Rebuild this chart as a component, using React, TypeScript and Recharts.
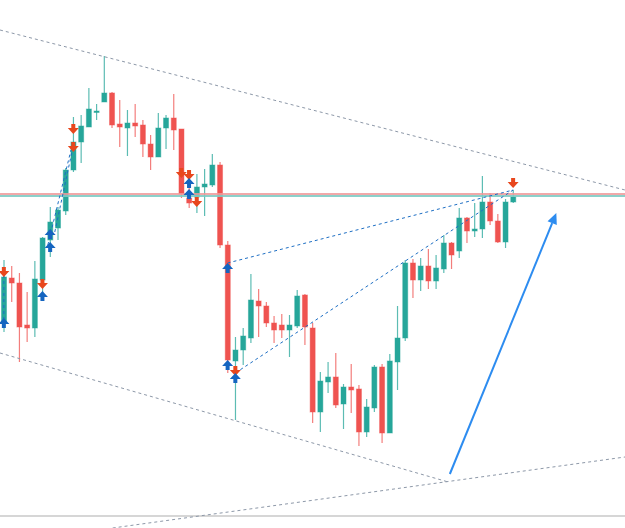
import { ComposedChart, Bar, Scatter, XAxis, YAxis, ReferenceLine } from "recharts";

// candles, oldest first (price units are arbitrary, no axis is shown)
const opens = [
  205, 250, 245, 203, 200, 248, 288, 300, 317, 358, 386, 401, 416, 426, 435, 404, 400,
  405, 403, 384, 371, 400, 410, 399, 330, 331, 341, 343, 363, 283, 167, 178, 190, 227,
  222, 205, 203, 198, 202, 233, 200, 116, 146, 151, 124, 141, 139, 96, 120, 161, 95,
  166, 190, 265, 248, 262, 247, 259, 285, 277, 310, 297, 299, 326, 307, 286, 326,
];
const highs = [
  268, 262, 255, 236, 267, 291, 321, 321, 360, 411, 413, 440, 424, 472, 436, 428, 418,
  424, 408, 393, 415, 413, 434, 399, 340, 354, 359, 374, 366, 287, 191, 200, 254, 239,
  226, 212, 214, 213, 238, 234, 205, 156, 166, 175, 144, 164, 143, 129, 163, 164, 174,
  222, 268, 269, 270, 279, 273, 293, 286, 320, 311, 325, 352, 335, 314, 329, 338,
];
const lows = [
  196, 226, 166, 186, 191, 228, 271, 288, 313, 356, 365, 401, 408, 426, 400, 381, 372,
  391, 371, 358, 371, 379, 378, 330, 320, 315, 312, 341, 280, 155, 108, 163, 185, 191,
  201, 185, 190, 171, 200, 183, 105, 96, 135, 120, 99, 115, 82, 91, 116, 85, 95,
  138, 187, 230, 237, 239, 239, 255, 259, 270, 285, 291, 290, 303, 285, 280, 325,
];
const closes = [
  251, 245, 201, 200, 249, 290, 306, 318, 358, 386, 402, 419, 417, 435, 403, 401, 405,
  402, 384, 371, 400, 410, 398, 334, 325, 341, 344, 363, 283, 168, 178, 192, 228, 222,
  205, 198, 198, 203, 232, 201, 116, 147, 151, 123, 141, 138, 96, 121, 161, 95, 167,
  190, 265, 248, 262, 247, 260, 285, 273, 310, 297, 299, 326, 307, 286, 326, 331,
];

// signal arrows: [candle index, price]
const sellSignals = [
  [0, 256], [5, 244], [9, 399], [9, 381], [23, 355], [24, 353], [25, 326], [30, 157], [66, 345],
];
const buySignals = [
  [0, 205], [5, 232], [6, 281], [6, 294], [24, 345], [24, 334], [29, 260], [29, 163], [30, 150],
];

// drawn lines: [x1, y1, x2, y2] in candle index / price
const channelLines = [
  [-0.5, 498, 80.5, 338],
  [-0.5, 175, 57.6, 46],
  [14.1, 0, 80.5, 71],
];
const patternLines = [
  [29, 265, 66, 338],
  [30, 155, 66, 338],
  [0, 253, 0, 208],
  [5.7, 283, 8.7, 378],
  [6.6, 296, 9.1, 386],
];
const trendArrow = [57.8, 54, 71.6, 315];
const resistance = 334;
const support = 332;
const baseLine = 12;

const GREEN = "#26a69a";
const RED = "#ef5350";

const candles = opens.map((open, i) => ({
  i,
  open,
  high: highs[i],
  low: lows[i],
  close: closes[i],
}));
const sells = sellSignals.map(([i, p]) => ({ i, p }));
const buys = buySignals.map(([i, p]) => ({ i, p }));

const Candle = (props: any) => {
  const { x, y, width, height, payload } = props;
  const { open, high, low, close } = payload;
  const h = Math.abs(height);
  const top = height < 0 ? y + height : y;
  const k = h / (high - low);
  const py = (v: number) => top + (high - v) * k;
  const color = close >= open ? GREEN : RED;
  const cx = x + width / 2;
  const bTop = py(Math.max(open, close));
  const bBot = py(Math.min(open, close));
  return (
    <g>
      <line x1={cx} x2={cx} y1={top} y2={top + h} stroke={color} strokeOpacity={0.75} strokeWidth={1.2} />
      <rect
        x={cx - 2.5}
        y={bTop}
        width={5}
        height={Math.max(1.5, bBot - bTop)}
        fill={color}
        stroke={color}
        strokeOpacity={0.45}
        strokeWidth={1}
      />
    </g>
  );
};

const SellArrow = ({ cx, cy }: any) => (
  <path
    d={`M${cx - 2},${cy - 5} h4 v4 h3.5 L${cx},${cy + 5} L${cx - 5.5},${cy - 1} h3.5 Z`}
    fill="#e8471d"
  />
);

const BuyArrow = ({ cx, cy }: any) => (
  <path
    d={`M${cx - 2},${cy + 5} h4 v-4 h3.5 L${cx},${cy - 5} L${cx - 5.5},${cy + 1} h3.5 Z`}
    fill="#1565c0"
  />
);

const ArrowShape = (p: any) => {
  const { x1, y1, x2, y2 } = p;
  const a = Math.atan2(y2 - y1, x2 - x1);
  const len = 11;
  const w = 5;
  const bx = x2 - len * Math.cos(a);
  const by = y2 - len * Math.sin(a);
  const nx = -Math.sin(a) * w;
  const ny = Math.cos(a) * w;
  return (
    <g>
      <line x1={x1} y1={y1} x2={bx} y2={by} stroke="#2d8cf0" strokeWidth={2} />
      <path d={`M${x2},${y2} L${bx + nx},${by + ny} L${bx - nx},${by - ny} Z`} fill="#2d8cf0" />
    </g>
  );
};

export default function App() {
  return (
    <div style={{ position: "absolute", left: 0, top: 0, width: 625, height: 528, background: "#fff" }}>
      <ComposedChart width={625} height={528} data={candles} margin={{ top: 0, right: 0, bottom: 0, left: 0 }}>
        <XAxis dataKey="i" type="number" domain={[-0.5, 80.5]} allowDataOverflow hide />
        <YAxis type="number" domain={[0, 528]} allowDataOverflow hide />
        <ReferenceLine y={baseLine} stroke="#d6d6d6" strokeWidth={2} />
        {channelLines.map(([a, b, c, d], k) => (
          <ReferenceLine
            key={`ch-${k}`}
            segment={[{ x: a, y: b }, { x: c, y: d }]}
            stroke="#8d98a8"
            strokeDasharray="3 3"
            ifOverflow="visible"
          />
        ))}
        <Bar
          dataKey={(d: any) => [d.low, d.high]}
          barSize={6}
          shape={(props: any) => <Candle {...props} />}
          isAnimationActive={false}
        />
        <ReferenceLine y={resistance} stroke="#ef9a9a" strokeOpacity={0.85} strokeWidth={2} />
        <ReferenceLine y={support} stroke="#80cbc4" strokeOpacity={0.9} strokeWidth={2} />
        {patternLines.map(([a, b, c, d], k) => (
          <ReferenceLine
            key={`pl-${k}`}
            segment={[{ x: a, y: b }, { x: c, y: d }]}
            stroke="#1e6fc4"
            strokeDasharray="3 3"
            ifOverflow="visible"
          />
        ))}
        <Scatter data={sells} dataKey="p" shape={(p: any) => <SellArrow {...p} />} isAnimationActive={false} />
        <Scatter data={buys} dataKey="p" shape={(p: any) => <BuyArrow {...p} />} isAnimationActive={false} />
        <ReferenceLine
          segment={[
            { x: trendArrow[0], y: trendArrow[1] },
            { x: trendArrow[2], y: trendArrow[3] },
          ]}
          ifOverflow="visible"
          shape={(p: any) => <ArrowShape {...p} />}
        />
      </ComposedChart>
    </div>
  );
}
